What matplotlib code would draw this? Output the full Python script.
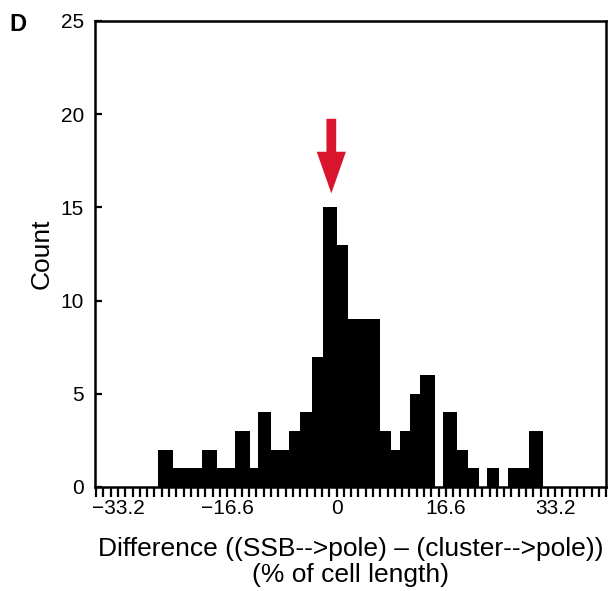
import numpy as np
import matplotlib
matplotlib.use('Agg')
import matplotlib.pyplot as plt

plt.rcParams['font.family'] = ['Liberation Sans', 'DejaVu Sans']

# histogram: bin edges (% of cell length) and counts
bin_edges = [-27.1, -24.9, -22.6, -20.4, -18.2, -15.5, -13.2, -12.0, -9.9,
             -7.2, -5.5, -3.7, -2.1, 0.1, 1.8, 4.2, 6.6, 8.2, 9.6, 11.2,
             12.7, 14.9, 16.2, 18.3, 19.9, 21.6, 22.8, 24.7, 26.0, 27.7,
             29.3, 31.4]
counts = [2, 1, 1, 2, 1, 3, 1, 4, 2, 3, 4, 7, 15, 13, 9, 9, 3, 2, 3, 5,
          6, 0, 4, 2, 1, 0, 1, 0, 1, 1, 3]

x_ticks = [-33.2, -16.6, 0, 16.6, 33.2]
x_ticklabels = ['\u221233.2', '\u221216.6', '0', '16.6', '33.2']
y_ticks = [0, 5, 10, 15, 20, 25]
peak_x = -0.8

fig = plt.figure(figsize=(6.11, 5.91), dpi=100)
ax = fig.add_axes([0.1555, 0.176, 0.8365, 0.7885])

edges = np.array(bin_edges)
ax.bar(edges[:-1], counts, width=np.diff(edges), align='edge',
       color='black', linewidth=0)

ax.set_xlim(-36.7, 40.9)
ax.set_ylim(0, 25)

ax.set_xticks(x_ticks)
ax.set_xticklabels(x_ticklabels)
ax.set_xticks(np.arange(-33, 38) * (33.2 / 30), minor=True)
ax.tick_params(axis='x', which='both', direction='out', length=7,
               width=1.6, labelsize=15, pad=2)
ax.set_yticks(y_ticks)
ax.tick_params(axis='y', which='major', direction='in', length=5,
               width=1.6, labelsize=15, pad=8)

for sp in ax.spines.values():
    sp.set_linewidth(1.8)

ax.set_ylabel('Count', fontsize=19, labelpad=5)
ax.set_xlabel('Difference ((SSB-->pole) \u2013 (cluster-->pole))\n(% of cell length)',
              fontsize=19, labelpad=13, linespacing=1.12)

# red arrow over the peak
ax.annotate('', xy=(peak_x, 15.6), xytext=(peak_x, 19.9),
            arrowprops=dict(arrowstyle='simple,head_length=3.0,head_width=2.1,tail_width=0.7',
                            color='#d9152d', lw=0))

fig.text(0.016, 0.948, 'D', fontsize=17, fontweight='bold')

fig.savefig('out.png', dpi=100)
